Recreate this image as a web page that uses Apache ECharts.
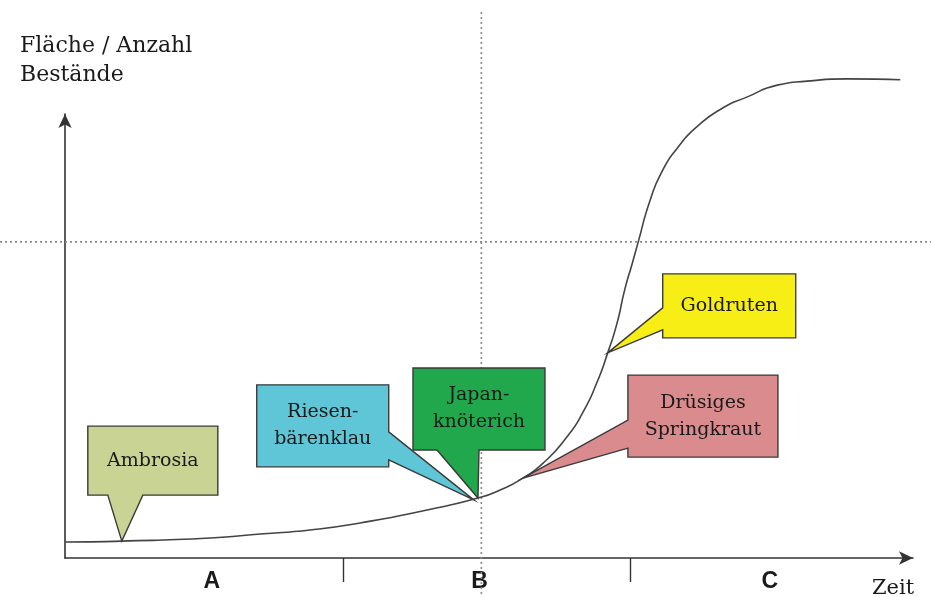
<!DOCTYPE html>
<html>
<head>
<meta charset="utf-8">
<script src="https://cdn.jsdelivr.net/npm/echarts@6/dist/echarts.min.js"></script>
<style>
html,body{margin:0;padding:0;background:#fff;}
#chart{width:931px;height:597px;}
</style>
</head>
<body>
<div id="chart"></div>
<script>
// ---- data ----
const curveX = [0, 6.7, 17.1, 23.0, 28.9, 34.8, 42.7, 48.7, 51.3, 54.0, 56.4, 59.2, 61.1, 62.7, 64.0, 65.1, 66.0, 66.9, 67.6, 69.0, 70.5, 72.2, 74.5, 77.6, 80.4, 84.0, 87.5, 92.2, 98.5];
const curveY = [3.6, 3.8, 4.5, 5.4, 6.3, 7.9, 10.8, 13.5, 15.3, 18.0, 21.4, 27.3, 32.9, 39.4, 46.2, 52.9, 60.4, 66.4, 71.2, 80.6, 87.4, 92.3, 97.1, 101.4, 103.8, 106.5, 107.4, 107.9, 107.7];

const calloutNames = ['Ambrosia', 'Riesen-\nbärenklau', 'Japan-\nknöterich', 'Drüsiges\nSpringkraut', 'Goldruten'];
const calloutTipX = [6.7, 48.2, 48.7, 54.0, 64.0];
const calloutTipY = [3.8, 13.1, 13.5, 18.0, 46.2];

const refLineX = [49.1];
const refLineY = [71.2];

const phaseBounds = [32.8, 66.7];
const phaseLabels = ['A', 'B', 'C'];
const phaseLabelPos = [17.3, 48.9, 83.1];

const yAxisTitle = 'Fläche / Anzahl\nBestände';
const xAxisTitle = 'Zeit';

// ---- layout / style (pixels relative to tip) ----
const calloutColors = ['#c9d394', '#5ec6d7', '#21a84c', '#d98b8d', '#f6ee14'];
const calloutLayout = [
  {dx: -34, dy: -115, w: 130, h: 69, side: 'bottom', base: [20, 55]},
  {dx: -217, dy: -115, w: 132, h: 82, side: 'right', base: [47, 75]},
  {dx: -65, dy: -130, w: 132, h: 82, side: 'bottom', base: [24, 66]},
  {dx: 105, dy: -103, w: 150, h: 82, side: 'left', base: [45, 73]},
  {dx: 55, dy: -79, w: 133, h: 64, side: 'left', base: [34, 56]}
];

const curveData = curveX.map((x, i) => [x, curveY[i]]);
const calloutData = calloutTipX.map((x, i) => [x, calloutTipY[i], i]);
const refData = refLineX.map((x, i) => [x, refLineY[i]]);

function calloutPoints(t, L) {
  const x = t[0] + L.dx, y = t[1] + L.dy, w = L.w, h = L.h, a = L.base[0], b = L.base[1];
  if (L.side === 'bottom') return [[x,y],[x+w,y],[x+w,y+h],[x+b,y+h],t,[x+a,y+h],[x,y+h]];
  if (L.side === 'right') return [[x,y],[x+w,y],[x+w,y+a],t,[x+w,y+b],[x+w,y+h],[x,y+h]];
  return [[x,y],[x+w,y],[x+w,y+h],[x,y+h],[x,y+b],t,[x,y+a]];
}

const chart = echarts.init(document.getElementById('chart'), null, {renderer: 'canvas'});
chart.setOption({
  backgroundColor: '#ffffff',
  animation: false,
  title: [
    {text: yAxisTitle, left: 15, top: 27, textStyle: {fontFamily: 'DejaVu Serif', fontSize: 22, fontWeight: 'normal', color: '#1a1a1a', lineHeight: 29}},
    {text: xAxisTitle, left: 867, top: 573, textStyle: {fontFamily: 'DejaVu Serif', fontSize: 21, fontWeight: 'normal', color: '#1a1a1a'}}
  ],
  grid: {left: 65, right: 18, top: 114, bottom: 39},
  xAxis: {
    type: 'value', min: 0, max: 100,
    axisLine: {show: true, symbol: ['none', 'arrow'], symbolSize: [10, 14], lineStyle: {color: '#333', width: 1.6}},
    axisTick: {show: true, customValues: phaseBounds, length: 24, inside: false, lineStyle: {color: '#333', width: 1.4}},
    axisLabel: {
      show: true, customValues: phaseLabelPos, margin: 12,
      formatter: v => phaseLabels[phaseLabelPos.indexOf(v)] || '',
      fontFamily: 'Liberation Sans', fontWeight: 'bold', fontSize: 23, color: '#1a1a1a'
    },
    splitLine: {show: false}
  },
  yAxis: {
    type: 'value', min: 0, max: 100,
    axisLine: {show: true, symbol: ['none', 'arrow'], symbolSize: [10, 14], lineStyle: {color: '#333', width: 1.6}},
    axisTick: {show: false}, axisLabel: {show: false}, splitLine: {show: false}
  },
  series: [
    {
      type: 'custom', z: 1, silent: true,
      data: refData,
      encode: {x: 0, y: 1},
      renderItem: function (params, api) {
        const p = api.coord([api.value(0), api.value(1)]);
        const ls = {stroke: '#8a8a8a', lineWidth: 1.6, lineDash: [2, 3]};
        return {type: 'group', children: [
          {type: 'line', shape: {x1: p[0], y1: 12, x2: p[0], y2: 597}, style: ls},
          {type: 'line', shape: {x1: 0, y1: p[1], x2: 931, y2: p[1]}, style: ls}
        ]};
      }
    },
    {
      type: 'line', z: 2, data: curveData, showSymbol: false, symbol: 'none',
      smooth: 0.6, clip: false,
      lineStyle: {color: '#444', width: 1.6}
    },
    {
      type: 'custom', z: 3, silent: true,
      data: calloutData,
      encode: {x: 0, y: 1},
      renderItem: function (params, api) {
        const i = api.value(2);
        const L = calloutLayout[i];
        const t = api.coord([api.value(0), api.value(1)]);
        const pts = calloutPoints(t, L);
        const cx = t[0] + L.dx + L.w / 2, cy = t[1] + L.dy + L.h / 2;
        return {type: 'group', children: [
          {type: 'polygon', shape: {points: pts}, style: {fill: calloutColors[i], stroke: '#3a3a3a', lineWidth: 1.4, lineJoin: 'miter'}},
          {type: 'text', style: {text: calloutNames[i], x: cx, y: cy, align: 'center', verticalAlign: 'middle',
            fontFamily: 'DejaVu Serif', fontSize: 19, lineHeight: 27, fill: '#1a1a1a'}}
        ]};
      }
    }
  ]
});
</script>
</body>
</html>
